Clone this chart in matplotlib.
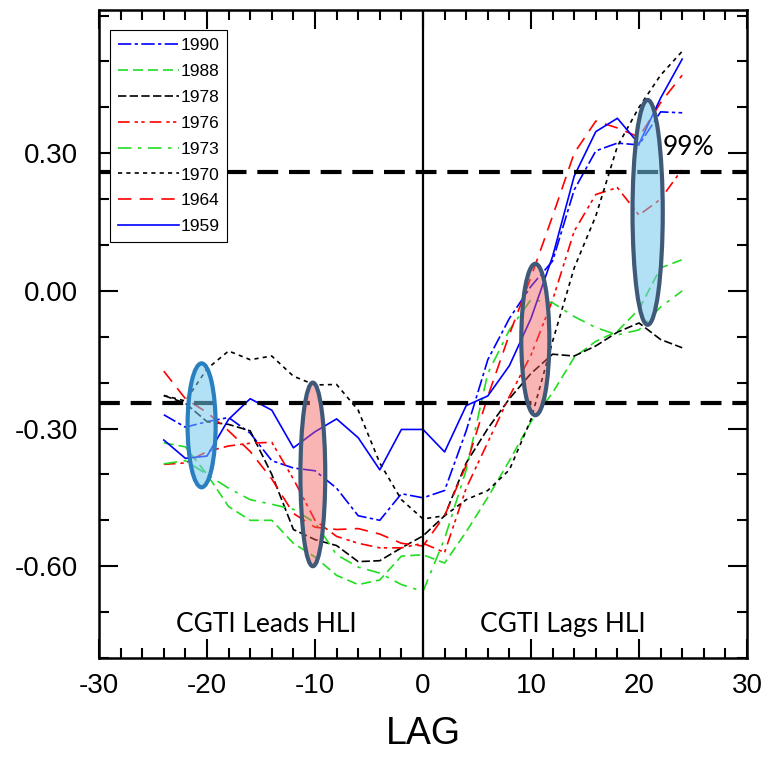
import numpy as np
import matplotlib
matplotlib.use('Agg')
import matplotlib.pyplot as plt
from matplotlib.patches import Ellipse
from matplotlib.ticker import MultipleLocator

lags = np.arange(-24, 25, 2)

y1990 = [-0.27, -0.297, -0.285, -0.276, -0.31, -0.37, -0.386, -0.392, -0.43, -0.49, -0.50, -0.442, -0.451,
         -0.435, -0.305, -0.15, -0.06, 0.01, 0.065, 0.22, 0.305, 0.322, 0.318, 0.39, 0.388]
y1988 = [-0.331, -0.34, -0.40, -0.47, -0.50, -0.50, -0.55, -0.58, -0.62, -0.64, -0.63, -0.578, -0.575,
         -0.593, -0.525, -0.45, -0.37, -0.285, -0.222, -0.145, -0.11, -0.088, -0.04, 0.05, 0.068]
y1978 = [-0.228, -0.245, -0.285, -0.291, -0.305, -0.40, -0.52, -0.542, -0.555, -0.59, -0.588, -0.56, -0.534,
         -0.49, -0.375, -0.30, -0.235, -0.18, -0.138, -0.142, -0.12, -0.09, -0.07, -0.106, -0.124]
y1976 = [-0.378, -0.375, -0.35, -0.338, -0.332, -0.33, -0.41, -0.50, -0.535, -0.55, -0.56, -0.56, -0.55,
         -0.57, -0.43, -0.33, -0.23, -0.14, -0.02, 0.13, 0.21, 0.225, 0.165, 0.2, 0.265]
y1973 = [-0.377, -0.37, -0.40, -0.43, -0.455, -0.465, -0.476, -0.505, -0.575, -0.602, -0.615, -0.64, -0.655,
         -0.54, -0.39, -0.18, -0.085, -0.019, -0.026, -0.056, -0.08, -0.096, -0.085, -0.035, 0.0]
y1970 = [-0.228, -0.24, -0.17, -0.131, -0.15, -0.142, -0.186, -0.205, -0.204, -0.26, -0.375, -0.455, -0.497,
         -0.49, -0.455, -0.435, -0.39, -0.28, -0.11, 0.05, 0.163, 0.315, 0.40, 0.47, 0.522]
y1964 = [-0.175, -0.235, -0.265, -0.305, -0.35, -0.41, -0.485, -0.515, -0.52, -0.518, -0.53, -0.55, -0.556,
         -0.49, -0.38, -0.23, -0.095, 0.03, 0.163, 0.30, 0.37, 0.355, 0.335, 0.41, 0.47]
y1959 = [-0.325, -0.365, -0.36, -0.28, -0.235, -0.26, -0.342, -0.307, -0.279, -0.32, -0.39, -0.302, -0.302,
         -0.351, -0.25, -0.229, -0.163, -0.06, 0.075, 0.25, 0.347, 0.376, 0.32, 0.42, 0.505]

years = ['1990', '1988', '1978', '1976', '1973', '1970', '1964', '1959']
series = [y1990, y1988, y1978, y1976, y1973, y1970, y1964, y1959]

sig_level = [0.26, -0.245]

xtick_values = [-30, -20, -10, 0, 10, 20, 30]
xtick_labels = ['-30', '-20', '-10', '0', '10', '20', '30']
ytick_values = [-0.6, -0.3, 0.0, 0.3]
ytick_labels = ['-0.60', '-0.30', '0.00', '0.30']

colors = ['#0000ff', '#22dd22', 'black', '#ff0000', '#22dd22', 'black', '#ff0000', '#0000ff']
styles = [(0, (8, 2, 2, 2)), (0, (6, 3)), (0, (5, 2)), (0, (7, 3, 2, 2, 2, 3)),
          (0, (8, 4, 2, 4)), (0, (2.5, 2.5)), (0, (8, 5)), '-']

fig = plt.figure(figsize=(7.65, 7.57), dpi=100)
ax = fig.add_axes([99 / 765, 99 / 757, 648 / 765, 648 / 757])

for yr, vals, c, ls in zip(years, series, colors, styles):
    ax.plot(lags, vals, color=c, linestyle=ls, linewidth=1.2, label=yr)

ax.axvline(0, color='black', linewidth=1.6)
for lev in sig_level:
    ax.axhline(lev, color='black', linewidth=3, linestyle=(0, (5, 2.6)))

# highlighted ellipses
ells = [
    ((-20.5, -0.293), 2.6, 0.27, (0.45, 0.78, 0.93, 0.55), '#2a7fc0'),
    ((-10.2, -0.40), 2.3, 0.40, (0.95, 0.35, 0.35, 0.45), '#3f5a78'),
    ((10.4, -0.106), 2.6, 0.33, (0.95, 0.35, 0.35, 0.45), '#3f5a78'),
    ((20.8, 0.171), 2.8, 0.49, (0.45, 0.78, 0.93, 0.55), '#3f5a78'),
]
for xy, w, h, fc, ec in ells:
    ax.add_patch(Ellipse(xy, w, h, facecolor=fc, edgecolor=ec, linewidth=3, zorder=5))

ax.text(24.6, 0.312, '99%', fontsize=19, family='Lato', ha='center', va='center')
ax.text(-14.5, -0.728, 'CGTI Leads HLI', fontsize=19, family='Lato', ha='center', va='center')
ax.text(12.9, -0.728, 'CGTI Lags HLI', fontsize=19, family='Lato', ha='center', va='center')

ax.set_xlim(-30, 30)
ax.set_ylim(-0.8, 0.612)
ax.set_xticks(xtick_values)
ax.set_xticklabels(xtick_labels)
ax.set_yticks(ytick_values)
ax.set_yticklabels(ytick_labels)
ax.xaxis.set_minor_locator(MultipleLocator(2))
ax.yaxis.set_minor_locator(MultipleLocator(0.1))
ax.tick_params(which='both', direction='in', top=True, right=True, width=1.5, labelsize=20)
ax.tick_params(axis='x', pad=11)
ax.tick_params(axis='y', pad=15)
ax.tick_params(which='major', length=14)
ax.tick_params(which='minor', length=7)
for lab in ax.get_xticklabels() + ax.get_yticklabels():
    lab.set_family('Liberation Sans')
for sp in ax.spines.values():
    sp.set_linewidth(1.8)

ax.set_xlabel('LAG', fontsize=27, family='Liberation Sans', labelpad=12)

leg = ax.legend(loc='upper left', bbox_to_anchor=(11 / 648, 1 - 20 / 648), borderaxespad=0,
                fontsize=12.5, handlelength=3.5, handletextpad=0.1, labelspacing=0.62,
                fancybox=False, edgecolor='black', framealpha=1, borderpad=0.45)
leg.get_frame().set_linewidth(0.8)
for t in leg.get_texts():
    t.set_family('Liberation Sans')

fig.savefig('out.png', dpi=100)
